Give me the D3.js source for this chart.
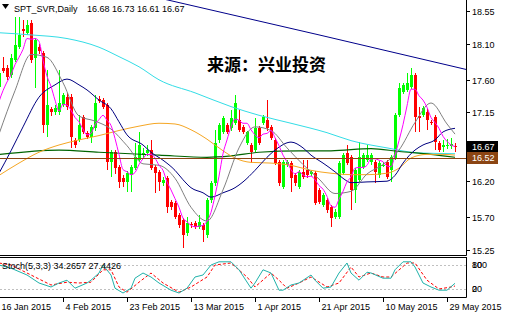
<!DOCTYPE html>
<html>
<head>
<meta charset="utf-8">
<script src="https://cdn.jsdelivr.net/npm/d3@7"></script>
<style>
body { margin: 0; background: #fff; }
svg { display: block; }
text { font-family: "Liberation Sans", Arial, sans-serif; font-size: 9px; fill: #000; }
</style>
</head>
<body>
<div id="chart"></div>
<script>
// daily candles, 16 Jan 2015 .. 1 Jun 2015 (broker has sunday bars)
var opens = [17.50,17.76,17.76,17.67,17.87,18.05,18.30,18.25,18.38,17.90,
 18.05,17.97,16.98,17.19,17.15,17.16,17.25,17.36,17.36,16.77,
 16.77,17.09,16.87,16.81,16.93,17.34,17.32,17.25,16.46,16.60,
 16.40,16.24,16.19,16.29,16.38,16.49,16.56,16.59,16.63,16.40,
 16.33,16.17,16.24,15.91,15.90,15.73,15.66,15.48,15.61,15.62,
 15.57,15.59,15.46,15.94,16.17,16.77,16.88,16.98,16.93,17.00,
 17.05,16.95,16.73,16.70,16.63,16.93,17.00,17.05,16.95,16.77,
 16.46,16.12,16.42,16.45,16.28,16.12,16.33,16.35,16.30,16.31,
 16.08,15.87,15.94,15.84,15.71,15.71,16.31,16.59,16.53,16.08,
 16.22,16.40,16.49,16.46,16.46,16.28,16.41,16.46,16.35,16.52,
 17.11,17.43,17.46,17.50,17.67,17.10,17.11,17.16,17.02,17.09,
 16.73,16.67,16.69,16.68,16.68];
var highs = [17.76,17.92,17.80,17.95,18.47,18.47,18.43,18.43,18.43,18.18,
 18.10,18.00,17.74,17.22,17.25,17.74,17.42,17.42,17.40,16.80,
 17.11,17.12,16.90,16.98,17.39,17.37,17.35,17.28,16.63,16.63,
 16.42,16.28,16.34,16.43,16.73,16.88,16.66,16.70,16.77,16.43,
 16.36,16.26,16.27,15.94,15.93,15.76,15.69,15.70,15.64,15.65,
 15.73,15.62,15.97,16.20,16.91,17.00,17.10,17.00,17.18,17.39,
 17.18,16.98,16.90,16.73,17.07,16.96,17.12,17.32,16.98,16.80,
 16.49,16.49,16.49,16.48,16.31,16.36,16.49,16.49,16.36,16.34,
 16.10,16.04,15.97,15.87,15.81,16.48,16.59,16.70,16.56,16.38,
 16.74,16.59,16.70,16.59,16.49,16.48,16.46,16.49,16.56,17.14,
 17.56,17.56,17.69,17.76,17.70,17.22,17.24,17.19,17.05,17.12,
 16.76,16.77,16.78,16.80,16.73];
var lows = [17.45,17.70,17.60,17.62,17.85,18.02,18.19,18.22,17.83,17.48,
 17.95,16.86,16.81,17.10,17.12,17.12,17.22,17.18,16.66,16.66,
 16.74,16.85,16.78,16.73,16.90,17.28,17.19,16.35,16.26,16.30,
 16.10,16.12,16.05,16.05,16.35,16.46,16.50,16.55,16.35,16.04,
 16.06,16.14,15.76,15.80,15.68,15.55,15.28,15.45,15.55,15.54,
 15.54,15.36,15.42,15.90,16.14,16.73,16.85,16.85,16.90,16.97,
 16.88,16.85,16.70,16.45,16.60,16.70,16.97,16.90,16.77,16.42,
 16.14,16.09,16.39,16.05,16.14,16.09,16.23,16.25,16.27,15.87,
 15.88,15.84,15.76,15.57,15.68,15.68,16.28,16.42,15.80,15.90,
 16.19,16.37,16.46,16.43,16.17,16.25,16.39,16.23,16.19,16.49,
 17.08,17.40,17.43,17.47,16.88,16.88,17.08,16.91,16.97,16.63,
 16.60,16.61,16.64,16.65,16.61];
var closes = [17.69,17.72,17.64,17.90,18.08,18.22,18.27,18.36,17.87,18.15,
 18.00,16.98,17.25,17.15,17.21,17.28,17.39,17.22,16.81,16.70,
 16.98,16.88,16.81,16.95,17.28,17.31,17.22,16.46,16.60,16.38,
 16.19,16.19,16.31,16.40,16.53,16.70,16.59,16.63,16.38,16.31,
 16.19,16.22,15.84,15.84,15.71,15.59,15.46,15.62,15.59,15.57,
 15.64,15.53,15.94,16.17,16.73,16.98,17.07,16.88,17.07,17.28,
 16.91,16.88,16.88,16.60,16.93,16.73,17.09,16.93,16.80,16.45,
 16.17,16.46,16.46,16.24,16.17,16.33,16.26,16.28,16.33,15.90,
 15.91,16.01,15.80,15.69,15.78,16.45,16.56,16.45,16.08,16.35,
 16.53,16.56,16.56,16.56,16.33,16.45,16.43,16.26,16.53,17.11,
 17.49,17.53,17.56,17.67,17.09,17.07,17.21,17.05,17.00,16.74,
 16.63,16.70,16.70,16.71,16.67];

// magenta MA, one value per bar
var maFast = [17.30,17.45,17.57,17.67,17.81,17.91,18.02,18.17,18.16,18.17,
 18.13,17.87,17.65,17.51,17.32,17.17,17.26,17.25,17.18,17.08,
 17.02,16.92,16.84,16.86,16.98,17.05,17.11,17.04,16.97,16.79,
 16.57,16.36,16.33,16.29,16.32,16.43,16.51,16.57,16.57,16.52,
 16.42,16.35,16.19,16.08,15.96,15.84,15.69,15.64,15.59,15.57,
 15.58,15.59,15.65,15.77,16.00,16.27,16.58,16.77,16.95,17.06,
 17.04,17.00,17.00,16.91,16.84,16.80,16.85,16.86,16.90,16.80,
 16.69,16.56,16.47,16.36,16.30,16.33,16.29,16.26,16.27,16.22,
 16.14,16.09,15.99,15.86,15.84,15.95,16.06,16.19,16.26,16.38,
 16.39,16.39,16.42,16.51,16.51,16.49,16.47,16.41,16.40,16.56,
 16.76,16.98,17.24,17.47,17.47,17.38,17.32,17.22,17.08,17.01,
 16.93,16.82,16.75,16.70,16.68];

// slower MAs, read at some bars
var grayIdx = [0,4,8,12,16,20,24,28,32,36,40,44,48,52,56,60,64,68,72,76,80,84,88,92,96,100,104,108,112,114];
var grayVal = [16.85,17.45,17.95,17.91,17.56,17.10,17.03,16.92,16.69,16.44,16.42,16.24,15.84,15.65,16.08,16.66,16.95,16.90,16.66,16.43,16.23,16.03,16.06,16.30,16.43,16.63,17.01,17.28,16.99,16.85];
var navyIdx = [0,3,6,10,14,17,20,22,25,28,30,32,36,38,41,44,46,48,51,53,56,59,61,64,67,70,72,73,76,78,81,84,86,88,92,97,99,101,104,106,109,111,114];
var navyVal = [16.31,16.62,16.95,17.36,17.53,17.61,17.53,17.46,17.32,17.20,17.02,16.84,16.70,16.60,16.49,16.35,16.22,16.11,16.04,15.98,16.04,16.11,16.19,16.35,16.53,16.67,16.73,16.74,16.66,16.56,16.45,16.33,16.24,16.18,16.19,16.20,16.28,16.45,16.63,16.70,16.77,16.88,16.93];
var orangeIdx = [0,5,10,15,20,25,30,35,40,44,48,52,56,59,63,68,73,78,83,88,92,97,100,103,107,111,114];
var orangeVal = [16.28,16.45,16.60,16.70,16.77,16.83,16.90,16.96,17.00,16.99,16.91,16.78,16.62,16.52,16.46,16.45,16.42,16.35,16.31,16.29,16.29,16.31,16.38,16.52,16.57,16.57,16.56];
var greenIdx = [0,15,25,40,52,58,65,75,83,93,100,108,114];
var greenVal = [16.57,16.63,16.60,16.56,16.53,16.55,16.60,16.62,16.62,16.65,16.61,16.57,16.53];
var cyanIdx = [0,8,17,25,30,35,40,49,58,65,73,82,88,97,105,114];
var cyanVal = [18.25,18.22,18.17,18.05,17.92,17.78,17.60,17.42,17.23,17.11,17.00,16.87,16.76,16.66,16.59,16.58];
var longIdx = [0,40,80,117];
var longVal = [19.25,18.73,18.22,17.74];

var hLinePrice = 16.52;
var lastPrice = 16.67;
var priceTicks = [18.55, 18.10, 17.60, 17.15, 16.20, 15.70, 15.25];

var timeIdx = [0,16,32,48,64,80,96,112];
var timeLabels = ["16 Jan 2015","4 Feb 2015","23 Feb 2015","13 Mar 2015","1 Apr 2015","21 Apr 2015","10 May 2015","29 May 2015"];

// stochastic (5,3,3)
var kIdx = [0,3,7,10,13,15,17,19,22,23,25,26,28,29,31,33,34,36,38,40,43,45,47,49,51,53,55,58,60,63,64,66,68,70,71,73,75,78,79,81,83,85,87,88,90,92,93,96,98,99,101,103,104,106,108,110,112,114];
var kVal = [80,72,55,35,25,35,42,22,35,42,60,80,55,22,10,22,47,60,50,35,17,10,22,50,55,80,88,88,68,22,35,68,60,17,17,30,35,55,42,22,25,60,85,60,42,62,60,47,47,68,88,88,75,35,25,17,17,34.2657];
var dIdx = [0,3,8,13,17,20,23,26,28,30,32,35,38,41,45,48,52,54,58,62,64,68,70,72,75,78,82,85,88,90,93,96,98,102,104,107,110,113,114];
var dVal = [85,80,55,30,37,35,37,68,68,25,12,37,60,35,12,25,50,80,85,50,25,60,42,22,35,50,25,35,75,50,60,50,50,85,85,42,20,25,27.4426];
var stochLevels = [80, 20];

// layout
var W = 505, H = 317;
var plotRight = 466, mainBottom = 255, subTop = 257, subBottom = 297;

var svg = d3.select("#chart").append("svg")
  .attr("width", W)
  .attr("height", H);

var x = d3.scaleLinear().domain([0, 114]).range([-1, 455]);
var y = d3.scaleLinear().domain([15.25, 18.55]).range([250, 11]);
var ys = d3.scaleLinear().domain([0, 100]).range([subBottom, subTop]);

var defs = svg.append("defs");
defs.append("clipPath").attr("id", "clipMain")
  .append("rect").attr("x", 0).attr("y", 0).attr("width", plotRight).attr("height", mainBottom);
defs.append("clipPath").attr("id", "clipSub")
  .append("rect").attr("x", 0).attr("y", subTop + 1).attr("width", plotRight).attr("height", subBottom - subTop - 1);

var main = svg.append("g").attr("clip-path", "url(#clipMain)");

// watermark
svg.append("text")
  .attr("x", 207).attr("y", 71)
  .style("font-family", "'Noto Sans CJK SC', sans-serif")
  .style("font-size", "17px")
  .style("font-weight", "bold")
  .text("来源：兴业投资");

// candles
var bars = d3.range(opens.length).map(function (i) {
  return { i: i, o: opens[i], h: highs[i], l: lows[i], c: closes[i] };
});
var candle = main.selectAll("g.candle").data(bars).enter().append("g")
  .attr("class", "candle");
candle.append("line")
  .attr("x1", function (d) { return x(d.i) + 0.5; })
  .attr("x2", function (d) { return x(d.i) + 0.5; })
  .attr("y1", function (d) { return Math.round(y(d.h)); })
  .attr("y2", function (d) { return Math.round(y(d.l)); })
  .style("stroke", function (d) { return d.c >= d.o ? "#00ff00" : "#ff0000"; })
  .style("stroke-width", 1);
candle.append("rect")
  .attr("x", function (d) { return x(d.i) - 1; })
  .attr("width", 3)
  .attr("y", function (d) { return Math.round(y(Math.max(d.o, d.c))); })
  .attr("height", function (d) {
    return Math.max(1, Math.round(y(Math.min(d.o, d.c))) - Math.round(y(Math.max(d.o, d.c))));
  })
  .style("fill", function (d) { return d.c >= d.o ? "#00ff00" : "#ff0000"; });

// moving averages
var smooth = d3.line()
  .x(function (d) { return x(d[0]); })
  .y(function (d) { return y(d[1]); })
  .curve(d3.curveMonotoneX);

function zip(a, b) { return a.map(function (v, k) { return [v, b[k]]; }); }

var maLines = [
  { pts: zip(longIdx, longVal), color: "#00008b", w: 1 },
  { pts: zip(cyanIdx, cyanVal), color: "#33dde6", w: 1 },
  { pts: zip(greenIdx, greenVal), color: "#006400", w: 1.2 },
  { pts: zip(orangeIdx, orangeVal), color: "#f5a623", w: 1 },
  { pts: zip(navyIdx, navyVal), color: "#000080", w: 1 },
  { pts: zip(grayIdx, grayVal), color: "#808080", w: 1 },
  { pts: maFast.map(function (v, k) { return [k, v]; }), color: "#ff00ff", w: 1 }
];
maLines.forEach(function (m) {
  main.append("path")
    .datum(m.pts)
    .attr("d", smooth)
    .style("fill", "none")
    .style("stroke", m.color)
    .style("stroke-width", m.w);
});

// horizontal line
main.append("line")
  .attr("x1", 0).attr("x2", plotRight)
  .attr("y1", Math.round(y(hLinePrice)) + 0.5).attr("y2", Math.round(y(hLinePrice)) + 0.5)
  .style("stroke", "#8b4513")
  .style("stroke-width", 1.2);

// frame
var frame = svg.append("g").style("stroke", "#000").style("stroke-width", 1).style("fill", "none");
frame.append("line").attr("x1", plotRight + 0.5).attr("x2", plotRight + 0.5).attr("y1", 0).attr("y2", mainBottom + 0.5);
frame.append("line").attr("x1", 0).attr("x2", plotRight + 0.5).attr("y1", mainBottom + 0.5).attr("y2", mainBottom + 0.5);
frame.append("line").attr("x1", 0).attr("x2", plotRight + 0.5).attr("y1", subTop + 0.5).attr("y2", subTop + 0.5);
frame.append("line").attr("x1", plotRight + 0.5).attr("x2", plotRight + 0.5).attr("y1", subTop).attr("y2", subBottom + 0.5);
frame.append("line").attr("x1", 0).attr("x2", plotRight + 0.5).attr("y1", subBottom + 0.5).attr("y2", subBottom + 0.5);

// price axis
var pAxis = svg.append("g");
priceTicks.forEach(function (p) {
  var py = Math.round(y(p)) + 0.5;
  pAxis.append("line").attr("x1", plotRight).attr("x2", plotRight + 4)
    .attr("y1", py).attr("y2", py).style("stroke", "#000");
  pAxis.append("text").attr("x", plotRight + 6).attr("y", py + 3).text(p.toFixed(2));
});

// price boxes
[[lastPrice, "#000000"], [hLinePrice, "#8b4513"]].forEach(function (b) {
  var by = y(b[0]);
  svg.append("rect").attr("x", plotRight + 1).attr("y", Math.round(by) - 6)
    .attr("width", 31).attr("height", 12).style("fill", b[1]);
  svg.append("text").attr("x", plotRight + 6).attr("y", Math.round(by) + 3)
    .style("fill", "#fff").text(b[0].toFixed(2));
});

// title
svg.append("path").attr("d", "M2,4 L9,4 L5.5,9 Z").style("fill", "#000");
svg.append("text").attr("x", 14).attr("y", 12).text("SPT_SVR,Daily");
svg.append("text").attr("x", 87).attr("y", 12)
  .text([opens[opens.length - 1], highs[highs.length - 1], lows[lows.length - 1], closes[closes.length - 1]]
    .map(function (v) { return v.toFixed(2); }).join(" "));

// stochastic window
var sub = svg.append("g").attr("clip-path", "url(#clipSub)");
stochLevels.forEach(function (lv) {
  sub.append("line").attr("x1", 0).attr("x2", plotRight)
    .attr("y1", Math.round(ys(lv)) + 0.5).attr("y2", Math.round(ys(lv)) + 0.5)
    .style("stroke", "#c0c0c0").style("stroke-dasharray", "2,2");
});
var sLine = d3.line()
  .x(function (d) { return x(d[0]); })
  .y(function (d) { return ys(d[1]); });
sub.append("path").datum(zip(dIdx, dVal)).attr("d", sLine)
  .style("fill", "none").style("stroke", "#ff0000").style("stroke-dasharray", "3,2");
sub.append("path").datum(zip(kIdx, kVal)).attr("d", sLine)
  .style("fill", "none").style("stroke", "#20b2aa");

svg.append("text").attr("x", 2).attr("y", 269)
  .text("Stoch(5,3,3) " + kVal[kVal.length - 1].toFixed(4) + " " + dVal[dVal.length - 1].toFixed(4));

// stoch scale labels (MT4 draws 100/80 and 20/0 on top of each other here)
[[100, 80], [80, 80], [20, 20], [0, 20]].forEach(function (s) {
  svg.append("text").attr("x", plotRight + 6).attr("y", Math.round(ys(s[1])) + 3).text(s[0]);
});

// time axis
var tAxis = svg.append("g");
timeIdx.forEach(function (ti, k) {
  var tx = x(ti) + 0.5;
  tAxis.append("line").attr("x1", tx).attr("x2", tx).attr("y1", subBottom).attr("y2", subBottom + 5)
    .style("stroke", "#000");
  tAxis.append("text").attr("x", tx + 2).attr("y", 310).text(timeLabels[k]);
});
</script>
</body>
</html>
